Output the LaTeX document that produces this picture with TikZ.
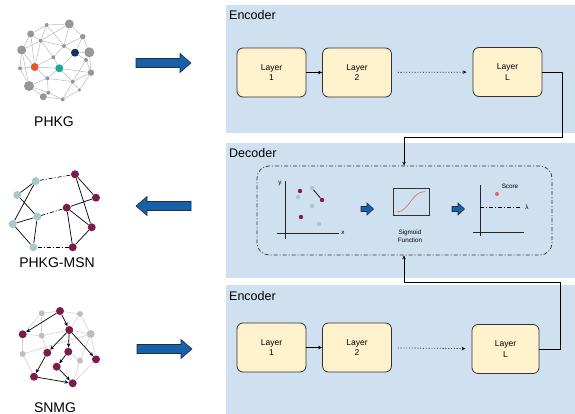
\documentclass[tikz,border=0pt]{standalone}
\usepackage{fontspec}
\setmainfont{Liberation Sans}
\usetikzlibrary{arrows.meta}

\definecolor{panel}{RGB}{207,224,241}
\definecolor{layerfill}{RGB}{255,242,204}
\definecolor{edgedark}{RGB}{51,51,51}
\definecolor{blockblue}{RGB}{24,96,168}
\definecolor{blockedge}{RGB}{30,45,70}
\definecolor{nodegray}{RGB}{150,150,155}
\definecolor{linkgray}{RGB}{185,185,190}
\definecolor{hotorange}{RGB}{232,85,44}
\definecolor{tealnode}{RGB}{26,168,154}
\definecolor{navynode}{RGB}{22,50,92}
\definecolor{maroon}{RGB}{122,28,76}
\definecolor{paleteal}{RGB}{168,201,204}
\definecolor{palegray}{RGB}{190,190,190}
\definecolor{paleline}{RGB}{210,210,210}
\definecolor{sigred}{RGB}{226,100,100}

\tikzset{
  panelbox/.style={fill=panel, draw=none},
  paneltitle/.style={anchor=west, inner sep=0pt, font=\fontsize{12.5}{14}\selectfont},
  layerbox/.style={draw=edgedark, fill=layerfill, line width=0.8pt, rounded corners=6pt,
    minimum width=69pt, minimum height=49pt, align=center, inner sep=0pt,
    font=\fontsize{8.5}{10.5}\selectfont},
  conn/.style={draw=black, line width=0.8pt, -{Stealth[length=4pt,width=3.5pt]}},
  dashdot/.style={dash pattern=on 4pt off 2pt on 1pt off 2pt},
  blockarrow/.style={fill=blockblue, draw=blockedge, line width=0.6pt, line join=miter},
  graphlabel/.style={font=\fontsize{14}{16}\selectfont, inner sep=0pt},
  smalltext/.style={font=\fontsize{6.3}{7.5}\selectfont, inner sep=0pt, align=center},
  gnode/.style={circle, fill=nodegray, inner sep=0pt, minimum size=#1},
  gnode/.default=4pt,
  tnode/.style={circle, fill=paleteal, inner sep=0pt, minimum size=8pt},
  mnode/.style={circle, fill=maroon, inner sep=0pt, minimum size=8pt},
  lnode/.style={circle, fill=palegray, inner sep=0pt, minimum size=#1},
  lnode/.default=6pt,
  dotm/.style={circle, fill=maroon, inner sep=0pt, minimum size=4.4pt},
  dott/.style={circle, fill=paleteal, inner sep=0pt, minimum size=4.4pt},
}

\begin{document}
\begin{tikzpicture}[x=1pt, y=-1pt]
\useasboundingbox (0,0) rectangle (575,414);

% ---------- panels ----------
\fill[panelbox] (226,5) rectangle (575,133);
\fill[panelbox] (226,143) rectangle (575,278);
\fill[panelbox] (226,285) rectangle (575,414);
\node[paneltitle] (enc1) at (229,15) {Encoder};
\node[paneltitle] (dec) at (229,153) {Decoder};
\node[paneltitle] (enc2) at (229,296) {Encoder};

% ---------- upper encoder ----------
\node[layerbox] (t1) at (271.5,72.5) {Layer\\1};
\node[layerbox] (t2) at (357,72.5) {Layer\\2};
\node[layerbox] (tL) at (507.5,72) {Layer\\L};
\draw[conn] (t1) -- (t2);
\draw[conn, dotted, shorten <=6pt, shorten >=6pt] (t2) -- (tL);

% ---------- lower encoder ----------
\node[layerbox] (b1) at (271.5,347.5) {Layer\\1};
\node[layerbox] (b2) at (357,347.5) {Layer\\2};
\node[layerbox, minimum width=67pt] (bL) at (505.5,349) {Layer\\L};
\draw[conn] (b1) -- (b2);
\draw[conn, dotted, shorten <=6pt, shorten >=6pt] (b2) -- (bL);

% ---------- decoder ----------
\node[draw=edgedark, line width=0.7pt, dashdot, rounded corners=12pt,
      minimum width=295pt, minimum height=89pt, inner sep=0pt] (dbox) at (404.5,210.5) {};

\coordinate (feed) at (404,0);
\draw[conn] (tL.east) -- (562,72) -- (562,137) -- (feed |- 0,137) -- (feed |- dbox.north);
\draw[conn] (bL.east) -- (560,349) -- (560,282) -- (feed |- 0,282) -- (feed |- dbox.south);

% scatter plot
\draw[line width=0.8pt, black!85] (285,181) -- (285,239);
\draw[line width=0.8pt, black!85] (277,233) -- (339,233);
\node[smalltext] (ylab) at (280,183) {y};
\node[smalltext] (xlab) at (343,233) {x};
\node[dotm] (s1) at (300,191) {};
\node[dott] (s2) at (298,197) {};
\node[dott] (s3) at (312,188) {};
\node[dotm] (s4) at (322,200) {};
\node[dott] (s5) at (312,206) {};
\node[dotm] (s6) at (301,217) {};
\node[dott] (s7) at (319,224) {};
\draw[line width=0.7pt, black] (s3) -- (s4);

% sigmoid block
\draw[blockarrow] (361,206.5) -- (367,206.5) -- (367,203) -- (373.5,209) -- (367,215) -- (367,211.5) -- (361,211.5) -- cycle;
\node[draw=edgedark, line width=0.8pt, minimum width=36pt, minimum height=27pt, inner sep=0pt] (sig) at (411,201.5) {};
\draw[sigred, line width=0.6pt] (397,212) .. controls (410,211) and (411,192) .. (425,191.5);
\node[smalltext] (sigtxt) at (410,236) {Sigmoid\\Function};

% score plot
\draw[blockarrow] (452,206.5) -- (458,206.5) -- (458,203) -- (464.5,209) -- (458,215) -- (458,211.5) -- (452,211.5) -- cycle;
\draw[line width=0.8pt, black!85] (480,185) -- (480,236);
\draw[line width=0.8pt, black!85] (473,232) -- (524,232);
\draw[line width=0.6pt, dashdot] (480,207) -- (522,207);
\node[smalltext] (lam) at (527,207) {λ};
\node[smalltext] (score) at (510,186) {Score};
\node[circle, fill=sigred, inner sep=0pt, minimum size=4pt] (pt) at (497,194) {};

% ---------- block arrows between graphs and panels ----------
\draw[blockarrow] (136,58.5) -- (180,58.5) -- (180,53.5) -- (191,63) -- (180,72.5) -- (180,67.5) -- (136,67.5) -- cycle;
\draw[blockarrow] (191,201.5) -- (147,201.5) -- (147,196.5) -- (136,206) -- (147,215.5) -- (147,210.5) -- (191,210.5) -- cycle;
\draw[blockarrow] (137,344.5) -- (181,344.5) -- (181,339.5) -- (192,349) -- (181,358.5) -- (181,353.5) -- (137,353.5) -- cycle;

% ---------- PHKG ----------
\begin{scope}[every node/.style={}]
\node[gnode=4pt]   (p1)  at (46.7,25) {};
\node[gnode=9pt]   (p2)  at (69.3,24) {};
\node[gnode=7pt]   (p3)  at (30.7,34) {};
\node[gnode=4pt]   (p4)  at (40.7,40.7) {};
\node[gnode=5.5pt] (p5)  at (82.7,36.7) {};
\node[gnode=9pt]   (p6)  at (21.7,50) {};
\node[gnode=4pt]   (p7)  at (64,46) {};
\node[circle, fill=navynode, inner sep=0pt, minimum size=8pt] (p8) at (75,52.7) {};
\node[gnode=10pt]  (p9)  at (89.3,52.3) {};
\node[gnode=4pt]   (p10) at (53.3,57.3) {};
\node[circle, fill=hotorange, inner sep=0pt, minimum size=8pt] (p11) at (34.7,67) {};
\node[circle, fill=tealnode, inner sep=0pt, minimum size=8pt] (p12) at (59.3,68.3) {};
\node[gnode=4pt]   (p13) at (86,60) {};
\node[gnode=4pt]   (p14) at (20,68.3) {};
\node[gnode=6.5pt] (p15) at (91,72.7) {};
\node[gnode=4pt]   (p16) at (47.3,78.3) {};
\node[gnode=4pt]   (p17) at (72.7,81.7) {};
\node[gnode=10pt]  (p18) at (29,86) {};
\node[gnode=3.5pt] (p19) at (79.3,90) {};
\node[gnode=4pt]   (p20) at (48.3,92.7) {};
\node[gnode=7pt]   (p21) at (43.3,96.7) {};
\node[gnode=4pt]   (p22) at (62.7,99.3) {};
\end{scope}
\begin{scope}[on background layer/.style={}]
\foreach \a/\b in {p1/p2,p2/p5,p5/p9,p9/p15,p15/p19,p19/p22,p22/p21,p21/p18,p18/p14,p14/p6,p6/p3,p3/p1,
  p1/p4,p4/p3,p4/p6,p4/p7,p4/p11,p4/p10,p1/p7,p2/p7,p2/p4,p7/p8,p7/p5,p8/p5,p8/p9,p8/p12,p8/p13,
  p10/p12,p10/p11,p10/p7,p11/p6,p11/p14,p11/p16,p11/p12,p12/p16,p12/p17,p13/p15,p13/p17,p15/p17,
  p16/p18,p16/p20,p16/p17,p17/p19,p17/p22,p20/p22,p18/p20,p6/p18,p3/p11,p9/p13,p12/p15,p20/p21}
  \draw[linkgray, line width=0.5pt] (\a) -- (\b);
\end{scope}
\node[graphlabel] (phkg) at (54,122) {PHKG};

% ---------- PHKG-MSN ----------
\node[tnode] (A) at (35.7,181) {};
\node[tnode] (B) at (17.3,195) {};
\node[tnode] (C) at (12.7,224) {};
\node[tnode] (D) at (37.3,216.7) {};
\node[tnode] (E) at (33.3,247.3) {};
\node[mnode] (F) at (75,174.3) {};
\node[mnode] (G) at (96,197.7) {};
\node[mnode] (H) at (66.7,207.7) {};
\node[mnode] (I) at (91.7,227.3) {};
\node[mnode] (J) at (72.7,247.3) {};
\foreach \a/\b in {A/B,A/C,B/D,C/D,C/E,D/E,F/G,F/I,H/G,H/I,H/J,I/J}
  \draw[black, line width=0.7pt] (\a) -- (\b);
\foreach \a/\b in {A/F,D/H,E/J}
  \draw[black, line width=0.7pt, dashdot] (\a) -- (\b);
\node[graphlabel] (msn) at (57,263) {PHKG-MSN};

% ---------- SNMG ----------
\node[lnode] (g1) at (41.7,313.3) {};
\node[lnode] (g2) at (80,314) {};
\node[lnode] (g3) at (41.7,335.7) {};
\node[lnode=8pt] (g4) at (90.7,334) {};
\node[lnode] (g5) at (22.7,354) {};
\node[lnode] (g6) at (80,360.7) {};
\node[mnode] (m1) at (60,311) {};
\node[mnode] (m2) at (22.7,334.3) {};
\node[mnode] (m3) at (69.3,330) {};
\node[mnode] (m4) at (47.3,352.7) {};
\node[mnode] (m5) at (68.3,351.7) {};
\node[mnode] (m6) at (96,359.3) {};
\node[mnode] (m7) at (56.7,366.7) {};
\node[mnode] (m8) at (34,376.7) {};
\node[mnode] (m9) at (72.7,383.3) {};
\foreach \a/\b in {g1/m1,m1/g2,g2/g4,g4/m6,m6/m9,m8/g5,g5/m2,m2/g1,g1/g3,g3/m3,g3/m4,
  g2/m3,m3/g4,g4/g6,g6/m5,g6/m9,g5/g4,m2/g3}
  \draw[paleline, line width=0.6pt] (\a) -- (\b);
\foreach \a/\b in {m1/m2,m1/m3,m3/m4,m3/m5,m3/m6,m4/m8,m5/m7,m7/m9,m8/m9}
  \draw[black, line width=0.7pt, -{Stealth[length=4pt,width=3.5pt]}] (\a) -- (\b);
\node[graphlabel] (snmg) at (55,408) {SNMG};

\end{tikzpicture}
\end{document}
